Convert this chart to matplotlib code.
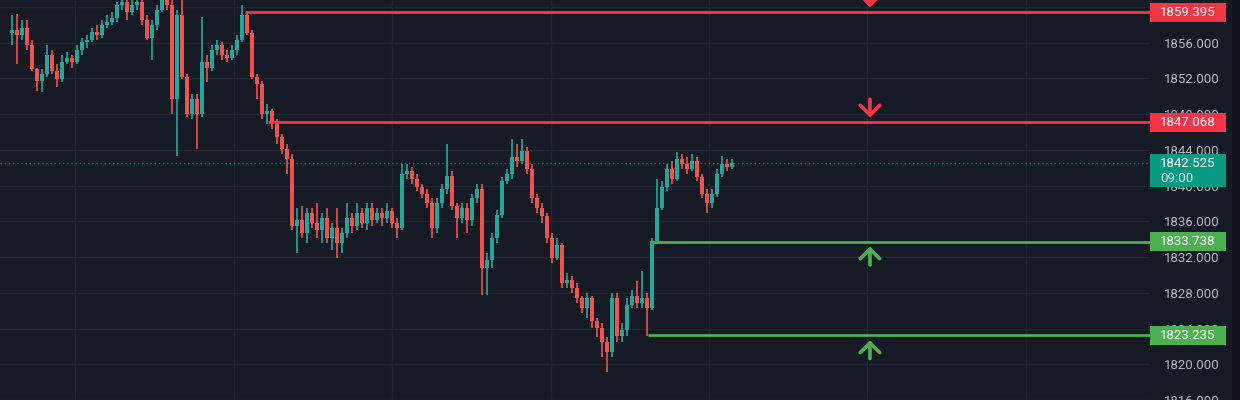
"""
Gold-style intraday candles with sell/buy levels, dark theme
"""
import numpy as np
import matplotlib
matplotlib.use("Agg")
import matplotlib.pyplot as plt
import matplotlib.transforms as mtransforms
from matplotlib.patches import Rectangle

# candle data (5 min bars), opens follow previous close
first_open = 1857.11
closes = [1857.44, 1856.89, 1857.67, 1855.78, 1853.00, 1851.67, 1852.44, 1854.67, 1852.78, 1851.89,
          1853.89, 1854.33, 1853.89, 1855.22, 1856.11, 1856.33, 1857.22, 1856.89, 1858.00, 1858.33,
          1858.78, 1860.22, 1860.56, 1859.44, 1860.22, 1860.56, 1858.56, 1856.56, 1858.00, 1859.67,
          1860.78, 1860.22, 1849.67, 1859.11, 1852.11, 1848.00, 1849.67, 1848.00, 1853.89, 1853.22,
          1855.22, 1855.78, 1854.67, 1854.33, 1855.22, 1856.33, 1859.11, 1857.11, 1852.11, 1851.33,
          1848.00, 1848.33, 1846.89, 1845.44, 1844.11, 1843.00, 1835.44, 1836.11, 1834.67, 1836.89,
          1835.78, 1835.00, 1836.33, 1834.11, 1835.22, 1833.56, 1834.67, 1836.33, 1835.44, 1836.89,
          1835.78, 1837.44, 1836.11, 1836.89, 1836.33, 1837.11, 1835.78, 1835.22, 1841.33, 1841.67,
          1840.78, 1839.89, 1839.11, 1838.00, 1835.22, 1838.00, 1839.67, 1841.11, 1837.67, 1836.33,
          1837.44, 1836.11, 1838.56, 1839.67, 1830.78, 1831.67, 1834.11, 1836.67, 1840.56, 1841.33,
          1843.22, 1842.78, 1843.89, 1841.89, 1838.56, 1837.44, 1836.56, 1834.11, 1831.89, 1833.33,
          1829.11, 1829.44, 1828.56, 1827.44, 1826.33, 1827.44, 1824.89, 1824.11, 1822.44, 1821.33,
          1827.44, 1823.22, 1823.89, 1826.67, 1827.67, 1826.89, 1827.44, 1826.33, 1833.78, 1837.44,
          1839.89, 1841.89, 1840.78, 1843.00, 1842.44, 1841.89, 1842.78, 1841.00, 1839.11, 1838.00,
          1839.11, 1841.33, 1842.44, 1842.11, 1842.525]
highs = [1859.11, 1859.22, 1858.56, 1858.56, 1856.33, 1853.22, 1853.00, 1855.78, 1855.22, 1853.56,
         1854.67, 1855.00, 1854.67, 1855.78, 1856.56, 1856.89, 1857.67, 1858.00, 1858.56, 1859.11,
         1859.44, 1860.56, 1861.33, 1860.78, 1860.78, 1861.33, 1860.78, 1859.11, 1858.56, 1860.22,
         1861.89, 1861.67, 1860.78, 1859.67, 1860.78, 1852.44, 1850.22, 1850.22, 1858.89, 1854.67,
         1855.78, 1856.33, 1856.11, 1855.22, 1855.78, 1856.89, 1860.22, 1859.44, 1857.44, 1852.44,
         1851.67, 1849.11, 1848.56, 1847.44, 1845.78, 1844.67, 1843.56, 1837.44, 1837.67, 1837.44,
         1837.44, 1838.00, 1836.89, 1837.44, 1835.78, 1837.44, 1835.22, 1838.00, 1836.89, 1838.00,
         1837.44, 1838.00, 1838.00, 1837.44, 1837.44, 1838.00, 1837.44, 1836.33, 1842.44, 1842.44,
         1842.11, 1841.33, 1840.22, 1839.67, 1838.56, 1838.56, 1840.22, 1844.67, 1841.67, 1838.00,
         1838.00, 1838.00, 1839.11, 1840.22, 1840.22, 1832.44, 1834.67, 1837.22, 1841.00, 1841.89,
         1845.22, 1844.67, 1845.22, 1844.33, 1842.44, 1839.11, 1838.00, 1836.89, 1834.67, 1834.11,
         1833.56, 1830.22, 1829.89, 1829.11, 1827.67, 1828.00, 1827.67, 1825.22, 1824.67, 1823.00,
         1828.00, 1828.00, 1824.67, 1827.44, 1828.33, 1829.33, 1830.44, 1828.00, 1834.11, 1840.78,
         1840.56, 1842.44, 1842.78, 1843.78, 1843.56, 1843.22, 1843.56, 1843.22, 1841.33, 1839.67,
         1839.67, 1841.89, 1843.33, 1843.00, 1843.00]
lows = [1855.78, 1853.56, 1856.33, 1855.22, 1852.78, 1850.56, 1850.44, 1852.11, 1852.44, 1851.00,
        1851.56, 1853.56, 1853.22, 1853.56, 1854.67, 1855.44, 1856.11, 1856.33, 1856.56, 1857.67,
        1858.00, 1858.33, 1859.67, 1858.56, 1859.11, 1859.67, 1858.00, 1856.33, 1854.11, 1857.44,
        1859.44, 1859.67, 1848.00, 1843.33, 1851.89, 1847.67, 1847.44, 1844.11, 1847.67, 1851.56,
        1852.78, 1854.67, 1854.11, 1853.89, 1854.11, 1854.67, 1856.11, 1856.89, 1851.89, 1849.67,
        1847.44, 1846.89, 1846.33, 1844.67, 1843.56, 1841.33, 1835.00, 1832.44, 1834.11, 1833.56,
        1835.22, 1834.11, 1833.56, 1833.56, 1832.78, 1831.89, 1832.44, 1834.11, 1834.67, 1835.00,
        1835.22, 1835.00, 1835.44, 1835.78, 1835.44, 1835.78, 1835.22, 1834.11, 1835.00, 1840.78,
        1840.22, 1839.44, 1838.56, 1837.44, 1834.11, 1834.67, 1837.44, 1839.11, 1837.22, 1834.11,
        1835.78, 1834.67, 1835.44, 1838.00, 1827.78, 1827.78, 1830.78, 1833.56, 1836.33, 1840.22,
        1840.78, 1842.11, 1842.44, 1841.33, 1838.00, 1836.89, 1835.78, 1833.56, 1831.33, 1831.67,
        1828.56, 1828.56, 1828.00, 1826.89, 1825.78, 1825.22, 1824.11, 1823.00, 1820.78, 1819.11,
        1820.78, 1822.44, 1822.44, 1823.22, 1826.33, 1826.33, 1826.33, 1823.22, 1826.11, 1833.56,
        1837.22, 1839.44, 1840.22, 1840.56, 1841.89, 1841.33, 1841.67, 1840.56, 1838.56, 1836.89,
        1837.44, 1838.78, 1841.00, 1841.67, 1841.89]

# sell / buy levels and the bar where each one starts
levels = [1859.395, 1847.068, 1833.738, 1823.235]
level_side = ["sell", "sell", "buy", "buy"]
level_start = [46.6, 51.2, 128.0, 127.2]
last_price = 1842.525
countdown = "09:00"
price_ticks = np.arange(1816, 1861, 4)

BG = "#161a25"
GRID = "#222632"
UP = "#26a69a"
DOWN = "#ef5350"
SELL = "#f23645"
BUY = "#4caf50"
TEAL = "#089981"

plt.rcParams["font.family"] = ["Roboto", "DejaVu Sans"]

fig = plt.figure(figsize=(12.4, 4), dpi=100, facecolor=BG)
ax = fig.add_axes([0, 0, 1150 / 1240, 1])
ax.set_facecolor(BG)

# candles
n = len(closes)
x = np.arange(n)
c = np.array(closes)
o = np.array([first_open] + closes[:-1])
cols = np.where(c >= o, UP, DOWN)
ax.vlines(x, lows, highs, colors=cols, lw=1.2, zorder=3)
ax.bar(x, np.maximum(np.abs(c - o), 0.15), bottom=np.minimum(o, c), width=0.72,
       color=cols, linewidth=0, zorder=3.1)

ax.set_xlim(-2.4, 227.6)
ax.set_ylim(1816.33, 1860.78)

# grid
ax.set_yticks(price_ticks)
ax.set_yticklabels(["%.3f" % v for v in price_ticks])
ax.grid(axis="y", color=GRID, lw=1, zorder=0)
for gx in np.arange(12.6, 227, 31.7):
    ax.axvline(gx, color=GRID, lw=1, zorder=0)
ax.set_xticks([])
ax.yaxis.tick_right()
ax.tick_params(axis="y", length=0, pad=10, labelcolor="#b2b5be", labelsize=9.5)
for s in ax.spines.values():
    s.set_visible(False)

# last price dotted line
ax.axhline(last_price, color=TEAL, lw=1, ls=(0, (1, 2)), alpha=0.8, zorder=2)

# level lines + arrows
trans = mtransforms.blended_transform_factory(fig.transFigure, ax.transData)
for lvl, side, start in zip(levels, level_side, level_start):
    col = SELL if side == "sell" else BUY
    ax.hlines(lvl, start, 227.6, color=col, lw=2, zorder=4)
    sgn = 1 if side == "sell" else -1
    ax.annotate("", xy=(171.6, lvl + sgn * 0.55), xytext=(171.6, lvl + sgn * 2.6),
                arrowprops=dict(arrowstyle="->,head_length=0.5,head_width=0.5",
                                color=col, lw=2.6, mutation_scale=14,
                                shrinkA=0, shrinkB=0), zorder=4)
    ax.add_patch(Rectangle((1150 / 1240, lvl - 1.06), 76 / 1240, 2.12, transform=trans,
                           facecolor=col, edgecolor="none", clip_on=False, zorder=5))
    ax.text(1160 / 1240, lvl, "%.3f" % lvl, transform=trans, color="white",
            fontsize=9.5, va="center", ha="left", zorder=6, clip_on=False)

# last price box
ax.add_patch(Rectangle((1150 / 1240, 1839.89), 76 / 1240, 3.67, transform=trans,
                       facecolor=TEAL, edgecolor="none", clip_on=False, zorder=5))
ax.text(1160 / 1240, last_price, "%.3f" % last_price, transform=trans, color="white",
        fontsize=9.5, va="center", ha="left", zorder=6, clip_on=False)
ax.text(1160 / 1240, 1840.78, countdown, transform=trans, color="#d8efe9",
        fontsize=9.5, va="center", ha="left", zorder=6, clip_on=False)

fig.patches.append(Rectangle((1232 / 1240, 0), 8 / 1240, 1, transform=fig.transFigure,
                             facecolor="#12151e", edgecolor="none", zorder=0))

fig.savefig("out.png", dpi=100, facecolor=BG)
